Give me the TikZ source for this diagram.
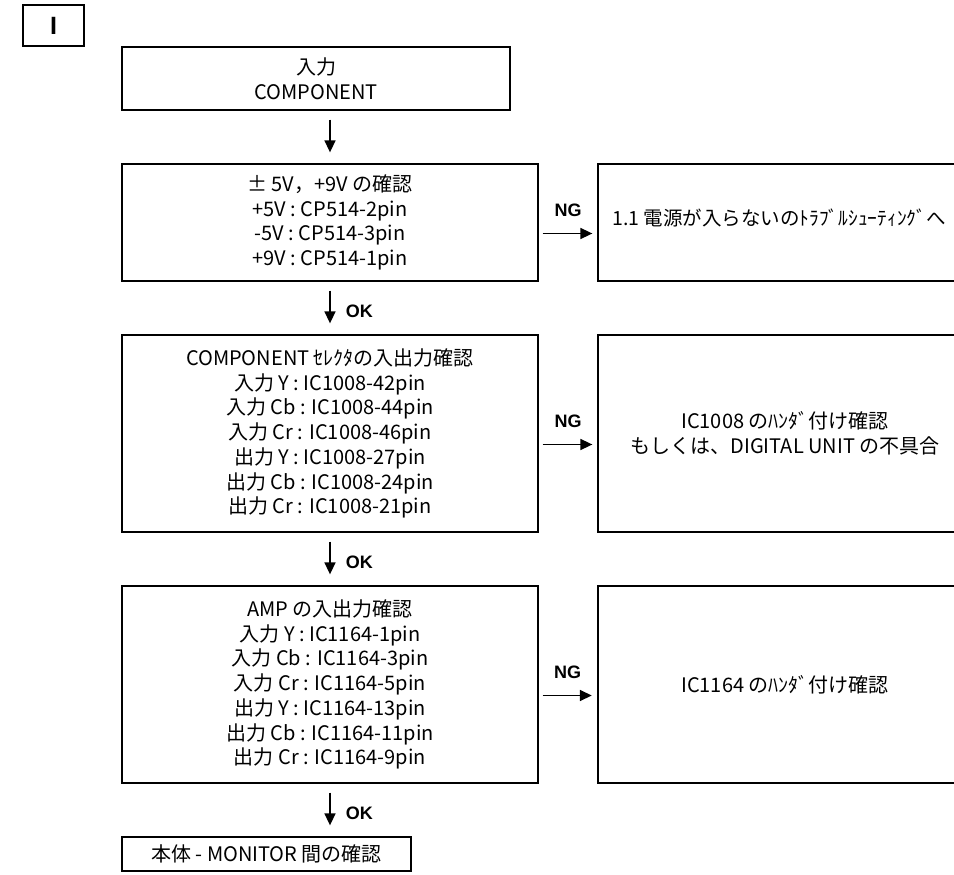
\documentclass[tikz,border=0pt]{standalone}
\usepackage{fontspec}
\setmainfont{Noto Sans CJK JP}
\newfontfamily\arialfont{Liberation Sans}
\usetikzlibrary{positioning,arrows.meta}

\begin{document}
\begin{tikzpicture}[x=1pt,y=-1pt,>={Triangle[length=12pt,width=11pt]},
  every node/.style={font=\fontsize{20}{24.7}\selectfont},
  stepbox/.style={rectangle,draw,line width=1.3pt,inner sep=0pt,align=center},
  flow/.style={->,line width=1.6pt,shorten <=9pt,shorten >=11pt},
  ngflow/.style={->,line width=1.6pt,shorten <=4pt,shorten >=5pt},
  tag/.style={font=\arialfont\bfseries\fontsize{18}{18}\selectfont,inner sep=0pt}]
  \clip (0,0) rectangle (954,875);
  \node[stepbox,line width=1.8pt,minimum width=61pt,minimum height=41pt,
    font=\arialfont\bfseries\fontsize{25}{25}\selectfont] (sec) at (53.5,25.5) {I};
  \node[stepbox,minimum width=388pt,minimum height=63pt] (in) at (316,78.5) {入力\\COMPONENT};
  \node[stepbox,minimum width=416pt,minimum height=117pt] (pwr) at (330,222.5)
    {± 5V，+9V の確認\\+5V : CP514-2pin\\-5V : CP514-3pin\\+9V : CP514-1pin};
  \node[stepbox,minimum width=416pt,minimum height=197pt] (sel) at (330,433.5)
    {COMPONENT ｾﾚｸﾀの入出力確認\\入力 Y : IC1008-42pin\\入力 Cb : IC1008-44pin\\入力 Cr : IC1008-46pin\\出力 Y : IC1008-27pin\\出力 Cb : IC1008-24pin\\出力 Cr : IC1008-21pin};
  \node[stepbox,minimum width=416pt,minimum height=197pt] (amp) at (330,684.5)
    {AMP の入出力確認\\入力 Y : IC1164-1pin\\入力 Cb : IC1164-3pin\\入力 Cr : IC1164-5pin\\出力 Y : IC1164-13pin\\出力 Cb : IC1164-11pin\\出力 Cr : IC1164-9pin};
  \node[stepbox,minimum width=289pt,minimum height=34pt] (mon) at (266.5,854) {本体 - MONITOR 間の確認};
  \node[stepbox,minimum width=374pt,minimum height=117pt] (ngpwr) at (785,222.5) {};
  \node[anchor=west,inner sep=0pt,font=\fontsize{19.5}{24.7}\selectfont] (ngpwrtxt) at (612,218)
    {1.1 電源が入らないのﾄﾗﾌﾞﾙｼｭｰﾃｨﾝｸﾞへ};
  \node[stepbox,minimum width=374pt,minimum height=197pt] (ngsel) at (785,433.5)
    {IC1008 のﾊﾝﾀﾞ付け確認\\もしくは、DIGITAL UNIT の不具合};
  \node[stepbox,line width=2.4pt,minimum width=374pt,minimum height=197pt] (ngamp) at (785,684.5)
    {IC1164 のﾊﾝﾀﾞ付け確認};
  \draw[flow] (pwr.north |- in.south) -- (pwr.north);
  \draw[flow] (pwr.south) -- node[tag,right=15pt,yshift=-3pt] {OK} (sel.north);
  \draw[flow] (sel.south) -- node[tag,right=15pt,yshift=-3pt] {OK} (amp.north);
  \draw[flow] (amp.south) -- node[tag,right=15pt,yshift=-3pt] {OK} (amp.south |- mon.north);
  \draw[ngflow] ([yshift=-11pt]pwr.east) -- node[tag,above=16pt] {NG} ([yshift=-11pt]pwr.east -| ngpwr.west);
  \draw[ngflow] ([yshift=-11pt]sel.east) -- node[tag,above=16pt] {NG} ([yshift=-11pt]sel.east -| ngsel.west);
  \draw[ngflow] ([yshift=-11pt]amp.east) -- node[tag,above=16pt] {NG} ([yshift=-11pt]amp.east -| ngamp.west);
\end{tikzpicture}
\end{document}
